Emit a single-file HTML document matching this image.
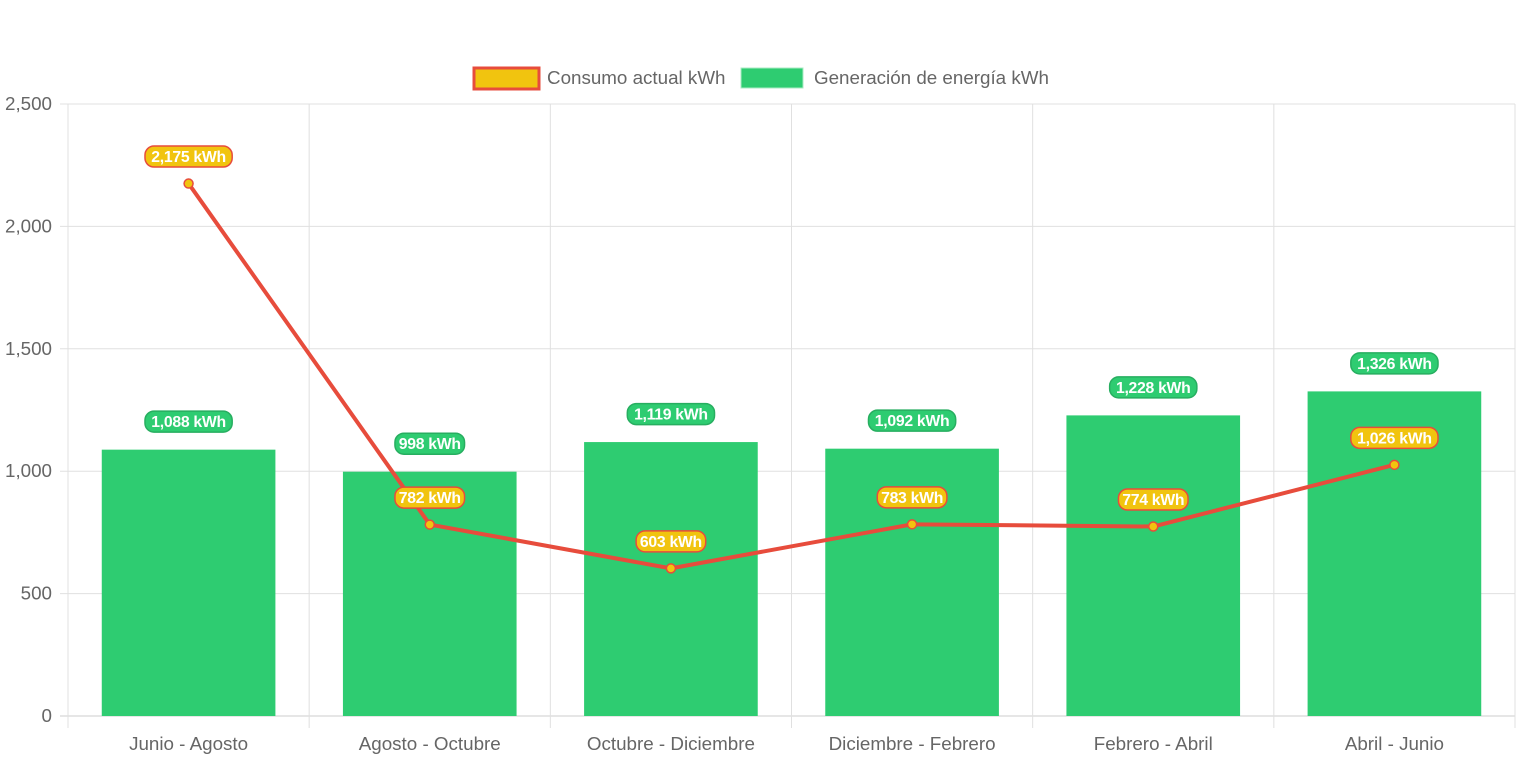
<!DOCTYPE html>
<html><head><meta charset="utf-8"><style>
html,body{margin:0;padding:0;background:#fff;}
svg{display:block;font-family:"Liberation Sans",Arial,sans-serif;}
</style></head><body>
<svg id="chart" width="1524" height="761" viewBox="0 0 1524 761">
<g id="grid"></g>
<g id="bars"></g>
<g id="line"></g>
<g id="labels"></g>
<g id="legend">
  <g>
    <rect x="474" y="68" width="65" height="21" fill="#f1c40f" stroke="#e74c3c" stroke-width="3"/>
    <text x="547" y="84" font-size="18.8" fill="#666">Consumo actual kWh</text>
  </g>
  <g>
    <rect x="741" y="68" width="62" height="20" fill="#2ecc71" stroke="#a8ebc3" stroke-width="1"/>
    <text x="814" y="84" font-size="18.8" fill="#666">Generación de energía kWh</text>
  </g>
</g>
</svg>
<script>
const categories = ["Junio - Agosto","Agosto - Octubre","Octubre - Diciembre","Diciembre - Febrero","Febrero - Abril","Abril - Junio"];
const generation = [1088, 998, 1119, 1092, 1228, 1326];
const consumption = [2175, 782, 603, 783, 774, 1026];
const yTicks = [0, 500, 1000, 1500, 2000, 2500];

const NS = "http://www.w3.org/2000/svg";
const L = 68, R = 1515, T = 104, B = 716, YMAX = 2500;
const bw = (R - L) / categories.length;
function x(i){ return L + bw * (i + 0.5); }
function y(v){ return B - (v / YMAX) * (B - T); }
function mk(tag, attrs, parent){ const e = document.createElementNS(NS, tag); for (const k in attrs) e.setAttribute(k, attrs[k]); parent.appendChild(e); return e; }
function fmt(v){ return v.toLocaleString("en-US") + " kWh"; }

const grid = document.getElementById("grid");
yTicks.forEach(t => {
  const l = mk("line", {x1: L - 8, x2: R, y1: y(t), y2: y(t), stroke: t === 0 ? "#ccc" : "#e0e0e0", "stroke-width": 1}, grid);
  
  
  const tx = mk("text", {x: L - 16, y: y(t) + 6, "text-anchor": "end", "font-size": 18.8, fill: "#666"}, grid);
  tx.textContent = t.toLocaleString("en-US");
  
  
});
for (let i = 0; i <= categories.length; i++) {
  const gx = L + bw * i;
  const l = mk("line", {x1: gx, x2: gx, y1: T, y2: B + 12, stroke: "#e0e0e0", "stroke-width": 1}, grid);
  
  
}
categories.forEach((c, i) => {
  const tx = mk("text", {x: x(i), y: 750, "text-anchor": "middle", "font-size": 18.8, fill: "#666"}, grid);
  tx.textContent = c;
  
  
});

const bars = document.getElementById("bars");
const barW = bw * 0.72;
generation.forEach((v, i) => {
  const r = mk("rect", {x: x(i) - barW / 2, y: y(v), width: barW, height: B - y(v), fill: "#2ecc71"}, bars);
  
  
});

const lineG = document.getElementById("line");
const pts = consumption.map((v, i) => x(i) + "," + y(v)).join(" ");
const pl = mk("polyline", {points: pts, fill: "none", stroke: "#e74c3c", "stroke-width": 4, "stroke-linejoin": "round"}, lineG);


consumption.forEach((v, i) => {
  const c = mk("circle", {cx: x(i), cy: y(v), r: 4.5, fill: "#f1c40f", stroke: "#e74c3c", "stroke-width": 1.5}, lineG);
  
  
});

const labels = document.getElementById("labels");
function badge(cx, cy, text, fill, stroke, name){
  const g = mk("g", {}, labels);
  
  
  const w = text.length * 8.8 + 8;
  mk("rect", {x: cx - w / 2, y: cy - 10.5, width: w, height: 21, rx: 9, fill: fill, stroke: stroke, "stroke-width": 1.5}, g);
  const t = mk("text", {x: cx, y: cy + 5.5, "text-anchor": "middle", "font-size": 15.8, "font-weight": "bold", fill: "#fff", "letter-spacing": "-0.3"}, g);
  t.textContent = text;
}
generation.forEach((v, i) => badge(x(i), y(v) - 28, fmt(v), "#2ecc71", "#27ae60", "generation-value-label"));
consumption.forEach((v, i) => badge(x(i), y(v) - 27, fmt(v), "#f1c40f", "#e74c3c", "consumption-value-label"));
</script>
</body></html>
